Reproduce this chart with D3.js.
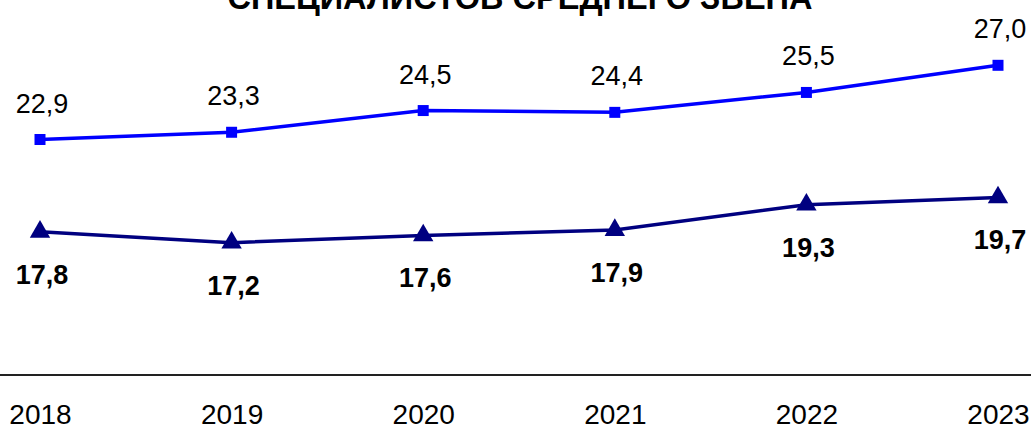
<!DOCTYPE html>
<html><head><meta charset="utf-8">
<script src="https://cdn.jsdelivr.net/npm/d3@7"></script>
<style>body{margin:0;background:#fff}svg{display:block}</style>
</head><body>
<svg id="c" width="1031" height="427"></svg>
<script>
const years = ["2018","2019","2020","2021","2022","2023"];
const seriesTop = [22.9, 23.3, 24.5, 24.4, 25.5, 27.0];
const seriesBottom = [17.8, 17.2, 17.6, 17.9, 19.3, 19.7];
const title = "СПЕЦИАЛИСТОВ СРЕДНЕГО ЗВЕНА";

const svg = d3.select("#c");
const font = "Liberation Sans, Arial, sans-serif";
const x = d3.scalePoint().domain(years).range([40, 998]);
const y = d3.scaleLinear().domain([10, 30]).range([373, 11]);
const fmt = v => v.toFixed(1).replace(".", ",");

svg.append("text").attr("x", 520).attr("y", 9).attr("text-anchor", "middle")
  .attr("font-family", font).attr("font-weight", "bold").attr("font-size", 32.5)
  .text(title);

// axis
const axis = d3.axisBottom(x).tickSize(0).tickPadding(29);
const g = svg.append("g").attr("transform", "translate(0,375)").call(axis);
g.select(".domain").remove();
g.append("line").attr("x1", 0).attr("x2", 1031).attr("stroke", "#222").attr("stroke-width", 2);
g.selectAll("text").attr("font-family", font).attr("font-size", 28).attr("fill", "#000");

const line = d3.line().x((d, i) => x(years[i])).y(d => y(d));

svg.append("path").datum(seriesTop).attr("d", line).attr("fill", "none")
  .attr("stroke", "#0000ff").attr("stroke-width", 3.5);
svg.append("path").datum(seriesBottom).attr("d", line).attr("fill", "none")
  .attr("stroke", "#000080").attr("stroke-width", 3.5);

svg.selectAll(".sq").data(seriesTop).enter().append("path")
  .attr("d", d3.symbol(d3.symbolSquare, 121)())
  .attr("transform", (d, i) => `translate(${x(years[i])},${y(d)})`)
  .attr("fill", "#0000ff");
svg.selectAll(".tr").data(seriesBottom).enter().append("path")
  .attr("d", d3.symbol(d3.symbolTriangle, 180)())
  .attr("transform", (d, i) => `translate(${x(years[i])},${y(d)})`)
  .attr("fill", "#000080");

svg.selectAll(".lt").data(seriesTop).enter().append("text")
  .attr("x", (d, i) => x(years[i]) + 2).attr("y", d => y(d) - 27)
  .attr("text-anchor", "middle").attr("font-family", font).attr("font-size", 27)
  .text(fmt);
svg.selectAll(".lb").data(seriesBottom).enter().append("text")
  .attr("x", (d, i) => x(years[i]) + 2).attr("y", d => y(d) + 52)
  .attr("text-anchor", "middle").attr("font-family", font).attr("font-weight", "bold")
  .attr("font-size", 27).text(fmt);
</script>
</body></html>
